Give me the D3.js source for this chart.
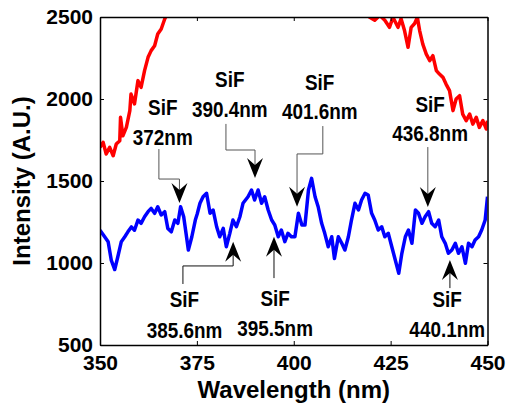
<!DOCTYPE html>
<meta charset="utf-8">
<head>
<script src="https://d3js.org/d3.v7.min.js"></script>
<style>
body { margin: 0; background: #fff; }
text { font-family: "Liberation Sans", Arial, sans-serif; font-weight: bold; fill: #000; }
</style>
</head>
<body>
<svg id="chart"></svg>
<script>
// blue spectrum (lower trace)
var blueWl = [350.0,351.2,352.1,352.9,353.8,354.6,355.5,356.4,357.2,358.1,358.9,359.8,360.6,361.5,362.4,363.2,364.1,364.9,365.8,366.7,
  367.5,368.4,369.3,370.1,370.8,371.6,372.2,372.8,373.7,374.6,375.1,375.8,376.6,377.5,378.4,379.2,380.1,380.9,381.8,382.6,
  383.5,384.3,385.2,386.1,386.9,388.2,389.1,389.9,390.8,391.7,392.5,393.4,394.3,395.1,396.0,396.8,397.7,398.5,399.4,400.3,
  401.2,402.1,402.9,403.8,404.6,405.5,406.3,407.2,408.0,408.9,409.8,410.5,411.5,412.4,413.2,414.1,414.9,415.8,416.7,417.5,
  418.4,419.2,420.1,420.9,421.8,422.7,423.5,424.4,425.3,426.2,427.1,427.9,428.8,429.6,430.5,431.4,432.2,433.1,433.9,434.8,
  435.6,436.5,437.4,438.2,439.1,439.9,440.8,441.7,442.5,443.4,444.3,445.1,446.0,446.8,447.7,448.5,449.4,450.0];
var blueI = [1200,1160,1130,1018,960,1038,1130,1160,1190,1220,1200,1262,1242,1282,1313,1333,1303,1343,1293,1313,
  1211,1190,1262,1242,1343,1282,1181,1079,1160,1262,1300,1364,1404,1425,1303,1323,1221,1160,1211,1099,
  1181,1262,1221,1282,1364,1404,1445,1384,1445,1364,1404,1323,1262,1232,1160,1201,1130,1181,1160,1160,
  1303,1232,1232,1445,1516,1404,1343,1242,1181,1099,1160,1028,1160,1120,1079,1160,1262,1364,1323,1384,
  1425,1415,1303,1262,1201,1221,1160,1181,1099,1018,937,1059,1160,1201,1120,1323,1303,1242,1282,1313,
  1242,1221,1262,1160,1120,1059,1079,1120,1059,1099,998,1120,1099,1140,1160,1201,1262,1404];

// red spectrum (upper trace, goes off scale in the middle)
var redWl = [350.0,350.8,351.6,352.5,353.4,354.2,355.1,355.3,355.9,356.8,357.7,358.0,358.9,359.8,360.6,361.5,362.4,363.2,364.1,364.9,
  365.8,366.7,367.1,367.6, 393.0,
  419.2,419.6,420.9,422.2,423.5,424.7,425.6,426.9,427.7,428.6,429.5,430.3,431.2,431.9,432.5,433.3,434.2,435.1,435.9,436.8,
  437.6,438.5,439.3,440.2,441.1,441.9,442.8,443.6,444.5,445.4,446.2,447.1,447.9,448.8,449.7,450.0];
var redI = [1705,1736,1665,1705,1654,1726,1746,1888,1776,1827,1929,2030,1970,2112,2071,2173,2254,2295,2325,2396,
  2427,2488,2508,2560, null,
  2540,2498,2480,2510,2480,2437,2498,2437,2490,2416,2315,2437,2460,2498,2416,2335,2274,2234,2264,2173,
  2152,2132,2091,2051,1929,2000,2020,1908,1868,1908,1847,1888,1827,1868,1817,1868];

var xTicks = [350,375,400,425,450];
var yTicks = [500,1000,1500,2000,2500];

// peak annotations, all in data units
var peaks = [
  {name:"SiF", wl:"372nm",   tipX:370.5, tipY:1366, dir:"down", legX:365.2, legEnd:1695, elbow:1512, textX:366.2, l1:1902, l2:1720},
  {name:"SiF", wl:"390.4nm", tipX:390.0, tipY:1518, dir:"down", legX:382.5, legEnd:1848, elbow:1689, textX:383.5, l1:2073, l2:1890},
  {name:"SiF", wl:"401.6nm", tipX:400.85,tipY:1343, dir:"down", legX:407.5, legEnd:1835, elbow:1665, textX:406.7, l1:2055, l2:1878},
  {name:"SiF", wl:"436.8nm", tipX:434.6, tipY:1341, dir:"down", legX:434.6, legEnd:1707, elbow:1707, textX:435.2, l1:1921, l2:1744},
  {name:"SiF", wl:"385.6nm", tipX:384.36,tipY:1130, dir:"up",   legX:371.4, legEnd:872,  elbow:982,  textX:371.8, l1:734,  l2:544},
  {name:"SiF", wl:"395.5nm", tipX:394.9, tipY:1160, dir:"up",   legX:394.9, legEnd:908,  elbow:908,  textX:395.2, l1:740,  l2:557},
  {name:"SiF", wl:"440.1nm", tipX:440.3, tipY:1018, dir:"up",   legX:440.3, legEnd:847,  elbow:847,  textX:439.6, l1:734,  l2:549}
];

var W = 507, H = 410;
var margin = {top:17, right:19.5, bottom:65, left:100};

var svg = d3.select("#chart").attr("width", W).attr("height", H);

var x = d3.scaleLinear().domain([350,450]).range([margin.left, W - margin.right]);
var y = d3.scaleLinear().domain([500,2500]).range([H - margin.bottom, margin.top]);

svg.append("clipPath").attr("id","plotclip")
  .append("rect")
  .attr("x", x(350)).attr("y", y(2500))
  .attr("width", x(450) - x(350)).attr("height", y(500) - y(2500));

var line = d3.line()
  .defined(function(d){ return d[1] != null; })
  .x(function(d){ return x(d[0]); })
  .y(function(d){ return y(d[1]); });

var redData = redWl.map(function(w,i){ return [w, redI[i]]; });
var blueData = blueWl.map(function(w,i){ return [w, blueI[i]]; });

var plot = svg.append("g").attr("clip-path","url(#plotclip)");
plot.append("path").datum(redData)
  .attr("d", line).attr("fill","none").attr("stroke","#ff0000")
  .attr("stroke-width",3.5).attr("stroke-linejoin","round");
plot.append("path").datum(blueData)
  .attr("d", line).attr("fill","none").attr("stroke","#0000ff")
  .attr("stroke-width",3.5).attr("stroke-linejoin","round");

// axes (box with inward ticks)
function styleAxis(g){
  g.selectAll(".domain").attr("stroke","#000").attr("stroke-width",1.5);
  g.selectAll(".tick line").attr("stroke","#000").attr("stroke-width",1);
  g.selectAll(".tick text").attr("font-size",21).attr("font-weight","bold")
    .attr("font-family","Liberation Sans, Arial, sans-serif").attr("fill","#000");
}

svg.append("g").attr("transform","translate(0," + y(500) + ")")
  .call(d3.axisBottom(x).tickValues(xTicks).tickFormat(d3.format("d")).tickSizeInner(-4).tickSizeOuter(0).tickPadding(10))
  .call(styleAxis);
svg.append("g").attr("transform","translate(" + x(350) + ",0)")
  .call(d3.axisLeft(y).tickValues(yTicks).tickFormat(d3.format("d")).tickSizeInner(-4).tickSizeOuter(0).tickPadding(7))
  .call(styleAxis);
svg.append("g").attr("transform","translate(0," + y(2500) + ")")
  .call(d3.axisTop(x).tickValues(xTicks).tickSizeInner(-4).tickSizeOuter(0).tickFormat(""))
  .call(styleAxis);
svg.append("g").attr("transform","translate(" + x(450) + ",0)")
  .call(d3.axisRight(y).tickValues(yTicks).tickSizeInner(-4).tickSizeOuter(0).tickFormat(""))
  .call(styleAxis);

// axis titles
svg.append("text")
  .attr("x", (x(350) + x(450)) / 2).attr("y", 398)
  .attr("text-anchor","middle").attr("font-size",24)
  .text("Wavelength (nm)");
svg.append("text")
  .attr("transform","translate(30," + (y(500) + y(2500)) / 2 + ") rotate(-90)")
  .attr("text-anchor","middle").attr("font-size",24)
  .text("Intensity (A.U.)");

// annotations
var headLen = 20, headHalf = 8, notch = 13;
var ann = svg.append("g");
peaks.forEach(function(p){
  var s = p.dir === "down" ? 1 : -1;   // +1: arrow points downward on screen
  var tx = x(p.tipX), ty = y(p.tipY);
  var pts = [[x(p.legX), y(p.legEnd)], [x(p.legX), y(p.elbow)], [tx, y(p.elbow)], [tx, ty - s * notch]];
  ann.append("path")
    .attr("d", d3.line()(pts))
    .attr("fill","none").attr("stroke", p.dir === "down" ? "#555" : "#111").attr("stroke-width",1);
  ann.append("path")
    .attr("d", "M" + tx + "," + ty +
      "L" + (tx - headHalf) + "," + (ty - s * headLen) +
      "L" + tx + "," + (ty - s * notch) +
      "L" + (tx + headHalf) + "," + (ty - s * headLen) + "Z")
    .attr("fill","#000");
  [[p.name, p.l1], [p.wl, p.l2]].forEach(function(t){
    ann.append("g")
      .attr("transform","translate(" + x(p.textX) + "," + y(t[1]) + ") scale(0.86,1)")
      .append("text").attr("text-anchor","middle").attr("font-size",22).text(t[0]);
  });
});
</script>
</body>
